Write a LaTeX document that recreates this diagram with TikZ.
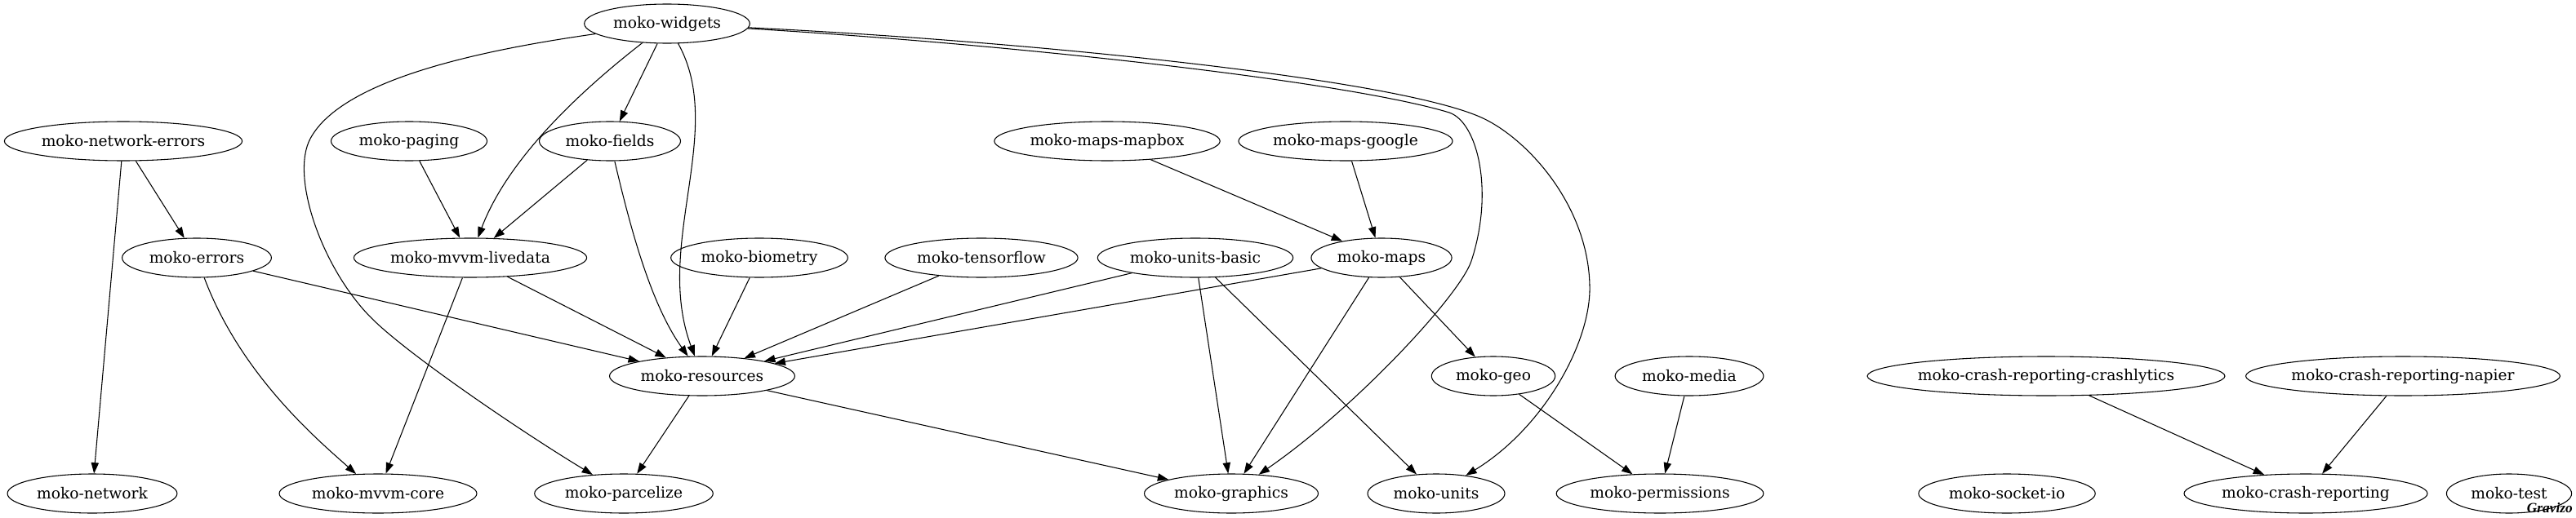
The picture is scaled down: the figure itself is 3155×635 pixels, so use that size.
\documentclass[tikz,border=0pt]{standalone}
\usepackage{fontspec}
\setmainfont{DejaVu Serif}
\newfontfamily\gravfont{Liberation Serif}
\usetikzlibrary{shapes.geometric,arrows.meta}
\newcommand\pkgfont{\fontsize{14}{16}\selectfont}
\newsavebox\pkgbox
\newdimen\pkgwd
\tikzset{
  pkg/.style={draw, ellipse, line width=0.8pt, minimum height=36pt,
              inner xsep=-12pt, inner ysep=2pt, font=\pkgfont},
  dep/.style={-{Triangle[length=10pt,width=7pt]}, line width=0.8pt},
}
\newcommand\measure[2]{%
  \sbox\pkgbox{\pkgfont #2}%
  \global\pkgwd=1.29\wd\pkgbox
  \global\advance\pkgwd by 24.5pt
  \expandafter\xdef\csname pkgw-#1\endcsname{\the\pkgwd}}
\newcommand\pkgnode[4]{%
  \node[pkg, minimum width=\csname pkgw-#1\endcsname] (#1) at (#2,#3) {#4};}
\begin{document}
\measure{widgets}{moko-widgets}%
\measure{networkerrors}{moko-network-errors}%
\measure{paging}{moko-paging}%
\measure{fields}{moko-fields}%
\measure{mapbox}{moko-maps-mapbox}%
\measure{google}{moko-maps-google}%
\measure{errors}{moko-errors}%
\measure{livedata}{moko-mvvm-livedata}%
\measure{biometry}{moko-biometry}%
\measure{tensorflow}{moko-tensorflow}%
\measure{unitsbasic}{moko-units-basic}%
\measure{maps}{moko-maps}%
\measure{resources}{moko-resources}%
\measure{geo}{moko-geo}%
\measure{media}{moko-media}%
\measure{crashlytics}{moko-crash-reporting-crashlytics}%
\measure{napier}{moko-crash-reporting-napier}%
\measure{network}{moko-network}%
\measure{mvvmcore}{moko-mvvm-core}%
\measure{parcelize}{moko-parcelize}%
\measure{graphics}{moko-graphics}%
\measure{units}{moko-units}%
\measure{permissions}{moko-permissions}%
\measure{socketio}{moko-socket-io}%
\measure{crashreporting}{moko-crash-reporting}%
\measure{test}{moko-test}%
\begin{tikzpicture}[x=0.75pt, y=-0.75pt]
\useasboundingbox (0,0) rectangle (3155,635);
% row 1
\pkgnode{widgets}{817}{29}{moko-widgets}
% row 2
\pkgnode{networkerrors}{151}{173}{moko-network-errors}
\pkgnode{paging}{501}{173}{moko-paging}
\pkgnode{fields}{747}{173}{moko-fields}
\pkgnode{mapbox}{1356}{173}{moko-maps-mapbox}
\pkgnode{google}{1648}{173}{moko-maps-google}
% row 3
\pkgnode{errors}{241}{316}{moko-errors}
\pkgnode{livedata}{576}{316}{moko-mvvm-livedata}
\pkgnode{biometry}{930}{316}{moko-biometry}
\pkgnode{tensorflow}{1202}{316}{moko-tensorflow}
\pkgnode{unitsbasic}{1464}{316}{moko-units-basic}
\pkgnode{maps}{1692}{316}{moko-maps}
% row 4
\pkgnode{resources}{860}{461}{moko-resources}
\pkgnode{geo}{1829}{461}{moko-geo}
\pkgnode{media}{2069}{461}{moko-media}
\pkgnode{crashlytics}{2506}{461}{moko-crash-reporting-crashlytics}
\pkgnode{napier}{2943}{461}{moko-crash-reporting-napier}
% row 5
\pkgnode{network}{113}{605}{moko-network}
\pkgnode{mvvmcore}{463}{605}{moko-mvvm-core}
\pkgnode{parcelize}{764}{605}{moko-parcelize}
\pkgnode{graphics}{1508}{605}{moko-graphics}
\pkgnode{units}{1759}{605}{moko-units}
\pkgnode{permissions}{2033}{605}{moko-permissions}
\pkgnode{socketio}{2458}{605}{moko-socket-io}
\pkgnode{crashreporting}{2824}{605}{moko-crash-reporting}
\pkgnode{test}{3073}{605}{moko-test}
\node[anchor=base east, inner sep=0pt] (gravizo) at (3151,628)
  {\gravfont\fontsize{13}{13}\selectfont\bfseries\itshape Gravizo};

% curved edges from moko-widgets
\draw[dep] (widgets) .. controls (600,60) and (420,95) .. (380,170)
   .. controls (355,217) and (395,330) .. (455,390)
   .. controls (500,435) and (640,530) .. (parcelize);
\draw[dep] (widgets) .. controls (700,120) and (620,200) .. (livedata);
\draw[dep] (widgets) -- (fields);
\draw[dep] (widgets) .. controls (890,160) and (800,300) .. (resources);
\draw[dep] (widgets) .. controls (1250,55) and (1650,100) .. (1775,138)
   .. controls (1810,150) and (1830,235) .. (1802,320)
   .. controls (1788,362) and (1660,500) .. (graphics);
\draw[dep] (widgets) .. controls (1250,50) and (1700,95) .. (1812,143)
   .. controls (1868,167) and (1945,250) .. (1947,350)
   .. controls (1949,420) and (1890,525) .. (units);

% other edges
\draw[dep] (paging) -- (livedata);
\draw[dep] (fields) -- (livedata);
\draw[dep] (fields) .. controls (770,270) and (795,370) .. (resources);
\draw[dep] (networkerrors) -- (errors);
\draw[dep] (networkerrors) -- (network);
\draw[dep] (errors) -- (resources);
\draw[dep] (errors) .. controls (295,460) and (390,540) .. (mvvmcore);
\draw[dep] (livedata) -- (mvvmcore);
\draw[dep] (livedata) -- (resources);
\draw[dep] (biometry) -- (resources);
\draw[dep] (tensorflow) -- (resources);
\draw[dep] (unitsbasic) -- (resources);
\draw[dep] (unitsbasic) -- (graphics);
\draw[dep] (unitsbasic) -- (units);
\draw[dep] (maps) -- (resources);
\draw[dep] (maps) -- (graphics);
\draw[dep] (maps) -- (geo);
\draw[dep] (mapbox) -- (maps);
\draw[dep] (google) -- (maps);
\draw[dep] (resources) -- (parcelize);
\draw[dep] (resources) -- (graphics);
\draw[dep] (geo) -- (permissions);
\draw[dep] (media) -- (permissions);
\draw[dep] (crashlytics) -- (crashreporting);
\draw[dep] (napier) -- (crashreporting);
\end{tikzpicture}
\end{document}
